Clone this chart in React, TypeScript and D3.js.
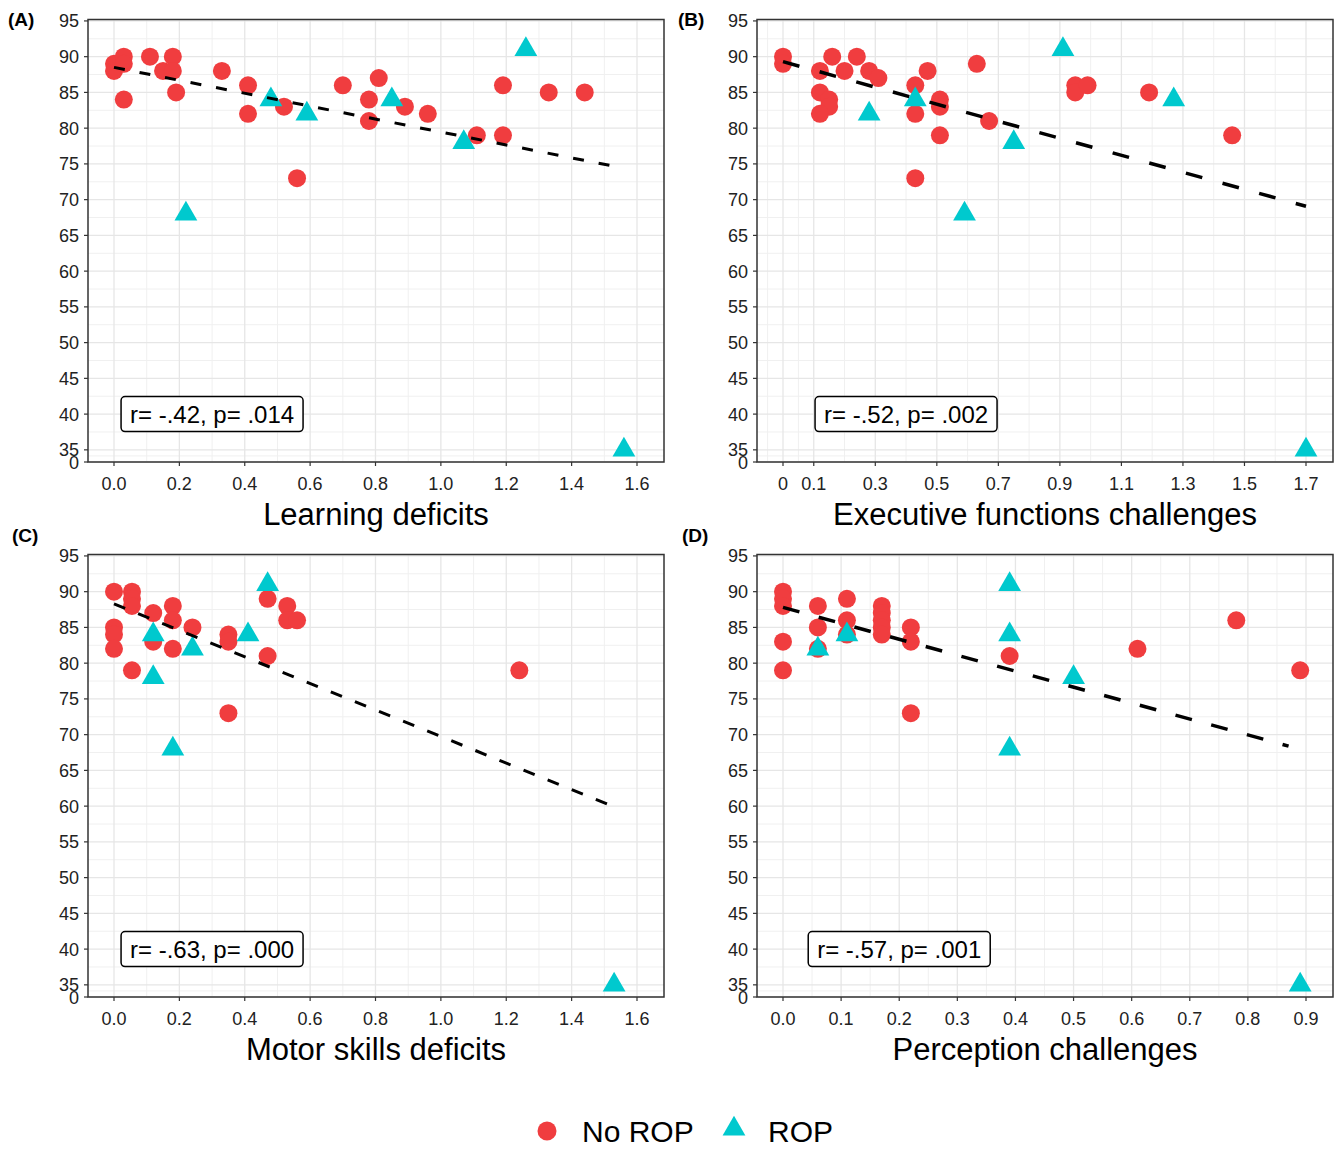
import React from 'react';
import * as d3 from 'd3';

// y axis (shared): the odd "0" break sits at the bottom of the panel
const yBreaks = [33.3, 35, 40, 45, 50, 55, 60, 65, 70, 75, 80, 85, 90, 95];
const yLabels = ['0', '35', '40', '45', '50', '55', '60', '65', '70', '75', '80', '85', '90', '95'];

// (A) Learning deficits
const learnTicks = [0, 0.2, 0.4, 0.6, 0.8, 1.0, 1.2, 1.4, 1.6];
const learnLabels = ['0.0', '0.2', '0.4', '0.6', '0.8', '1.0', '1.2', '1.4', '1.6'];
const learnNoRopX = [0, 0, 0.03, 0.03, 0.03, 0.11, 0.15, 0.18, 0.18, 0.19, 0.33, 0.41, 0.41, 0.52, 0.56, 0.7, 0.78, 0.78, 0.81, 0.89, 0.96, 1.11, 1.19, 1.19, 1.33, 1.44];
const learnNoRopY = [89, 88, 90, 89, 84, 90, 88, 90, 88, 85, 88, 86, 82, 83, 73, 86, 84, 81, 87, 83, 82, 79, 86, 79, 85, 85];
const learnRopX = [0.22, 0.48, 0.59, 0.85, 1.07, 1.26, 1.56];
const learnRopY = [68, 84, 82, 84, 78, 91, 35];
const learnFit = [88.5, -9.04, 0, 1.56]; // intercept, slope, from, to

// (B) Executive functions challenges
const execTicks = [0, 0.1, 0.3, 0.5, 0.7, 0.9, 1.1, 1.3, 1.5, 1.7];
const execLabels = ['0', '0.1', '0.3', '0.5', '0.7', '0.9', '1.1', '1.3', '1.5', '1.7'];
const execNoRopX = [0, 0, 0.12, 0.16, 0.2, 0.24, 0.28, 0.31, 0.12, 0.15, 0.15, 0.12, 0.43, 0.43, 0.43, 0.47, 0.51, 0.51, 0.51, 0.63, 0.67, 0.95, 0.95, 0.99, 1.19, 1.46];
const execNoRopY = [90, 89, 88, 90, 88, 90, 88, 87, 85, 84, 83, 82, 86, 82, 73, 88, 84, 83, 79, 89, 81, 86, 85, 86, 85, 79];
const execRopX = [0.28, 0.43, 0.59, 0.75, 0.91, 1.27, 1.7];
const execRopY = [82, 84, 68, 78, 91, 84, 35];
const execFit = [89.3, -11.9, 0, 1.7];

// (C) Motor skills deficits
const motorTicks = learnTicks;
const motorLabels = learnLabels;
const motorNoRopX = [0, 0, 0, 0, 0.055, 0.055, 0.055, 0.055, 0.12, 0.12, 0.18, 0.18, 0.18, 0.24, 0.35, 0.35, 0.35, 0.47, 0.47, 0.53, 0.53, 0.56, 1.24];
const motorNoRopY = [90, 85, 84, 82, 90, 89, 88, 79, 87, 83, 88, 86, 82, 85, 84, 83, 73, 89, 81, 88, 86, 86, 79];
const motorRopX = [0.12, 0.12, 0.18, 0.24, 0.41, 0.47, 1.53];
const motorRopY = [84, 78, 68, 82, 84, 91, 35];
const motorFit = [88.3, -18.56, 0, 1.53];

// (D) Perception challenges
const percTicks = [0, 0.1, 0.2, 0.3, 0.4, 0.5, 0.6, 0.7, 0.8, 0.9];
const percLabels = ['0.0', '0.1', '0.2', '0.3', '0.4', '0.5', '0.6', '0.7', '0.8', '0.9'];
const percNoRopX = [0, 0, 0, 0, 0, 0.06, 0.06, 0.06, 0.11, 0.11, 0.11, 0.17, 0.17, 0.17, 0.17, 0.17, 0.22, 0.22, 0.22, 0.39, 0.61, 0.78, 0.89];
const percNoRopY = [90, 89, 88, 83, 79, 88, 85, 82, 89, 86, 84, 88, 87, 86, 85, 84, 85, 83, 73, 81, 82, 86, 79];
const percRopX = [0.06, 0.11, 0.39, 0.39, 0.39, 0.5, 0.89];
const percRopY = [82, 84, 91, 84, 68, 78, 35];
const percFit = [87.8, -22.3, 0, 0.87];

const corrLabels = ['r= -.42, p= .014', 'r= -.52, p= .002', 'r= -.63, p= .000', 'r= -.57, p= .001'];
const corrLabelX = [0.3, 0.4, 0.3, 0.2];
const corrLabelY = 40;

const RED = '#F03D3F';
const CYAN = '#00C9CE';
const FONT = '"Liberation Sans", Arial, sans-serif';

const triangle = d3.symbol().type(d3.symbolTriangle).size(225)();

function minorOf(ticks: number[]) {
  const out: number[] = [];
  for (let i = 0; i < ticks.length - 1; i++) out.push((ticks[i] + ticks[i + 1]) / 2);
  const d0 = ticks[1] - ticks[0];
  const d1 = ticks[ticks.length - 1] - ticks[ticks.length - 2];
  out.unshift(ticks[0] - d0 / 2);
  out.push(ticks[ticks.length - 1] + d1 / 2);
  return out;
}

type PanelProps = {
  tag: string; tagX: number; tagY: number;
  title: string;
  left: number; top: number; right: number; bottom: number;
  ticks: number[]; labels: string[];
  noRopX: number[]; noRopY: number[]; ropX: number[]; ropY: number[];
  fit: number[]; dash: string; lw: number;
  corr: string; corrX: number;
};

function Panel(p: PanelProps) {
  const xMax = p.ticks[p.ticks.length - 1];
  const x = d3.scaleLinear().domain([0, xMax]).range([p.left + 26, p.right - 27]);
  const y = d3.scaleLinear().domain([33.3, 95.2]).range([p.bottom, p.top]);
  const xMinor = minorOf(p.ticks).filter(v => x(v) > p.left && x(v) < p.right);
  const yMinor = minorOf(yBreaks).filter(v => y(v) > p.top && y(v) < p.bottom);
  const fitLine = d3.line<number>().x(v => x(v)).y(v => y(p.fit[0] + p.fit[1] * v));
  const bx = x(p.corrX);
  const by = y(corrLabelY);
  return (
    <g>
      <rect x={p.left} y={p.top} width={p.right - p.left} height={p.bottom - p.top} fill="#fff" />
      {xMinor.map((v, i) => (
        <line key={'xm' + i} x1={x(v)} x2={x(v)} y1={p.top} y2={p.bottom} stroke="#F0F0F0" strokeWidth={1} />
      ))}
      {yMinor.map((v, i) => (
        <line key={'ym' + i} y1={y(v)} y2={y(v)} x1={p.left} x2={p.right} stroke="#F0F0F0" strokeWidth={1} />
      ))}
      {p.ticks.map((v, i) => (
        <line key={'xg' + i} x1={x(v)} x2={x(v)} y1={p.top} y2={p.bottom} stroke="#E6E6E6" strokeWidth={1.3} />
      ))}
      {yBreaks.map((v, i) => (
        <line key={'yg' + i} y1={y(v)} y2={y(v)} x1={p.left} x2={p.right} stroke="#E6E6E6" strokeWidth={1.3} />
      ))}
      {p.noRopX.map((v, i) => (
        <circle key={'n' + i} cx={x(v)} cy={y(p.noRopY[i])} r={9} fill={RED} />
      ))}
      {p.ropX.map((v, i) => (
        <path key={'r' + i} d={triangle as string} transform={`translate(${x(v)},${y(p.ropY[i])})`} fill={CYAN} />
      ))}
      <path d={fitLine([p.fit[2], p.fit[3]]) as string} fill="none" stroke="#000" strokeWidth={p.lw} strokeDasharray={p.dash} />
      <rect x={p.left} y={p.top} width={p.right - p.left} height={p.bottom - p.top} fill="none" stroke="#333" strokeWidth={1.5} />
      {p.ticks.map((v, i) => (
        <g key={'xt' + i}>
          <line x1={x(v)} x2={x(v)} y1={p.bottom} y2={p.bottom + 4} stroke="#333" strokeWidth={1.2} />
          <text x={x(v)} y={p.bottom + 28} textAnchor="middle" fontSize={18} fill="#222">{p.labels[i]}</text>
        </g>
      ))}
      {yBreaks.map((v, i) => (
        <g key={'yt' + i}>
          <line x1={p.left - 4} x2={p.left} y1={y(v)} y2={y(v)} stroke="#333" strokeWidth={1.2} />
          <text x={p.left - 9} y={y(v) + 6.5} textAnchor="end" fontSize={18} fill="#222">{yLabels[i]}</text>
        </g>
      ))}
      <text x={(p.left + p.right) / 2} y={p.bottom + 63} textAnchor="middle" fontSize={31} fill="#000">{p.title}</text>
      <text x={p.tagX} y={p.tagY} fontSize={19} fontWeight="bold" fill="#000">{p.tag}</text>
      <rect x={bx - 91} y={by - 17.5} width={182} height={35} rx={4} fill="#fff" stroke="#000" strokeWidth={1.5} />
      <text x={bx} y={by + 8.5} textAnchor="middle" fontSize={24} fill="#000">{p.corr}</text>
    </g>
  );
}

export default function App() {
  return (
    <div style={{ position: 'absolute', left: 0, top: 0 }}>
      <svg width={1338} height={1149} style={{ display: 'block', fontFamily: FONT }}>
        <rect width={1338} height={1149} fill="#fff" />
        <Panel tag="(A)" tagX={8} tagY={26} title="Learning deficits"
          left={88} top={19.5} right={664} bottom={462}
          ticks={learnTicks} labels={learnLabels}
          noRopX={learnNoRopX} noRopY={learnNoRopY} ropX={learnRopX} ropY={learnRopY}
          fit={learnFit} dash="11 15" lw={3} corr={corrLabels[0]} corrX={corrLabelX[0]} />
        <Panel tag="(B)" tagX={678} tagY={26} title="Executive functions challenges"
          left={757} top={19.5} right={1333} bottom={462}
          ticks={execTicks} labels={execLabels}
          noRopX={execNoRopX} noRopY={execNoRopY} ropX={execRopX} ropY={execRopY}
          fit={execFit} dash="17 21" lw={3.5} corr={corrLabels[1]} corrX={corrLabelX[1]} />
        <Panel tag="(C)" tagX={12} tagY={542} title="Motor skills deficits"
          left={88} top={554.5} right={664} bottom={997}
          ticks={motorTicks} labels={motorLabels}
          noRopX={motorNoRopX} noRopY={motorNoRopY} ropX={motorRopX} ropY={motorRopY}
          fit={motorFit} dash="12 14" lw={3} corr={corrLabels[2]} corrX={corrLabelX[2]} />
        <Panel tag="(D)" tagX={682} tagY={542} title="Perception challenges"
          left={757} top={554.5} right={1333} bottom={997}
          ticks={percTicks} labels={percLabels}
          noRopX={percNoRopX} noRopY={percNoRopY} ropX={percRopX} ropY={percRopY}
          fit={percFit} dash="17 20" lw={3.5} corr={corrLabels[3]} corrX={corrLabelX[3]} />
        <g>
          <circle cx={547} cy={1131} r={9.5} fill={RED} />
          <text x={582} y={1142} fontSize={30} fill="#000">No ROP</text>
          <path d={triangle as string} transform="translate(734,1129)" fill={CYAN} />
          <text x={768} y={1142} fontSize={30} fill="#000">ROP</text>
        </g>
      </svg>
    </div>
  );
}
